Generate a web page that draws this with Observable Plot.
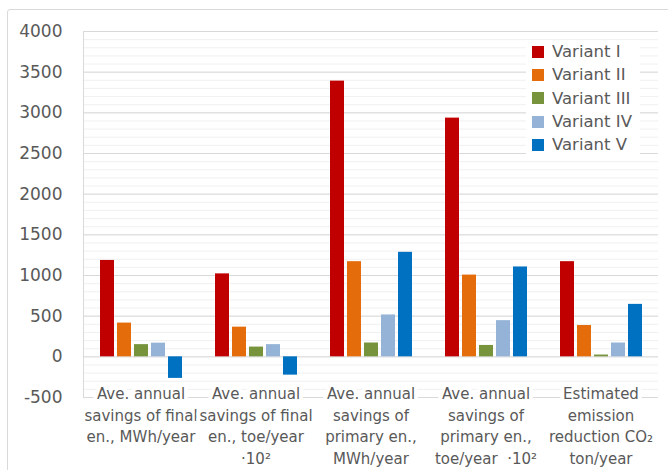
<!DOCTYPE html>
<html>
<head>
<meta charset="utf-8">
<script src="https://cdn.jsdelivr.net/npm/d3@7"></script>
<script src="https://cdn.jsdelivr.net/npm/@observablehq/plot@0.6"></script>
<style>
  html, body { margin: 0; padding: 0; background: #fff; overflow: hidden; }
  #wrap { position: relative; width: 668px; height: 470px; overflow: hidden; font-family: "DejaVu Sans", sans-serif; }
  #border { position: absolute; left: 7px; top: 9px; width: 700px; height: 500px; border: 1px solid #d9d9d9; border-radius: 3px; box-sizing: border-box; }
  #chart { position: absolute; left: 0; top: 0; }
  #legend { position: absolute; left: 526px; top: 40px; width: 114px; background: #fff; color: #595959; font-size: 16.5px; }
  .row { height: 23.3px; display: flex; align-items: center; }
  .sw { width: 12px; height: 12px; margin-left: 6px; margin-right: 8px; flex: none; }
</style>
</head>
<body>
<div id="wrap">
  <div id="border"></div>
  <div id="chart"></div>
  <div id="legend"></div>
</div>
<script>
const categories = [
  "Ave. annual\nsavings of final\nen., MWh/year",
  "Ave. annual\nsavings of final\nen., toe/year\n·10²",
  "Ave. annual\nsavings of\nprimary en.,\nMWh/year",
  "Ave. annual\nsavings of\nprimary en.,\ntoe/year  ·10²",
  "Estimated\nemission\nreduction CO₂\nton/year"
];
const variants = ["Variant I", "Variant II", "Variant III", "Variant IV", "Variant V"];
const variantI   = [1185, 1020, 3390, 2935, 1170];
const variantII  = [415, 365, 1170, 1005, 385];
const variantIII = [150, 120, 170, 140, 22];
const variantIV  = [168, 150, 515, 445, 170];
const variantV   = [-265, -225, 1285, 1105, 645];
const colors = ["#C00000", "#E46C0A", "#77933C", "#95B3D7", "#0070C0"];
const yTicks = [-500, 0, 500, 1000, 1500, 2000, 2500, 3000, 3500, 4000];
const yMinor = d3.range(-500, 4001, 100);

const series = [variantI, variantII, variantIII, variantIV, variantV];
const data = categories.flatMap((c, i) => variants.map((v, j) => ({category: c, variant: v, value: series[j][i]})));

const chart = Plot.plot({
  width: 668,
  height: 470,
  marginLeft: 81,
  marginRight: 8,
  marginTop: 31,
  marginBottom: 73,
  style: {color: "#595959", fontFamily: "DejaVu Sans, sans-serif", background: "transparent"},
  fx: {domain: categories, padding: 0, axis: null},
  x: {domain: variants, paddingInner: 0.2, paddingOuter: 0.8, axis: null},
  y: {domain: [-500, 4000], label: null},
  color: {domain: variants, range: colors},
  marks: [
    Plot.ruleY(yMinor, {stroke: "#f0f0f0", strokeWidth: 1}),
    Plot.ruleY(yTicks, {stroke: "#d9d9d9", strokeWidth: 1}),
    Plot.frame({anchor: "left", stroke: "#d9d9d9", strokeWidth: 1, strokeOpacity: 1, facet: "super"}),
    Plot.axisY({ticks: yTicks, tickSize: 0, tickPadding: 21, fontSize: 17, label: null, tickFormat: d => String(d)}),
    Plot.barY(data, {fx: "category", x: "variant", y: "value", fill: "variant"}),
    Plot.text(categories, {
      fx: d => d, text: d => d,
      frameAnchor: "bottom", lineAnchor: "top", dy: -14,
      fontSize: 15, lineHeight: 1.45, fill: "#595959",
      stroke: "white", strokeWidth: 8, strokeLinejoin: "round"
    })
  ]
});
document.getElementById("chart").appendChild(chart);

const legend = d3.select("#legend");
variants.forEach((v, i) => {
  const row = legend.append("div").attr("class", "row");
  row.append("div").attr("class", "sw").style("background", colors[i]);
  row.append("span").text(v);
});
</script>
</body>
</html>
